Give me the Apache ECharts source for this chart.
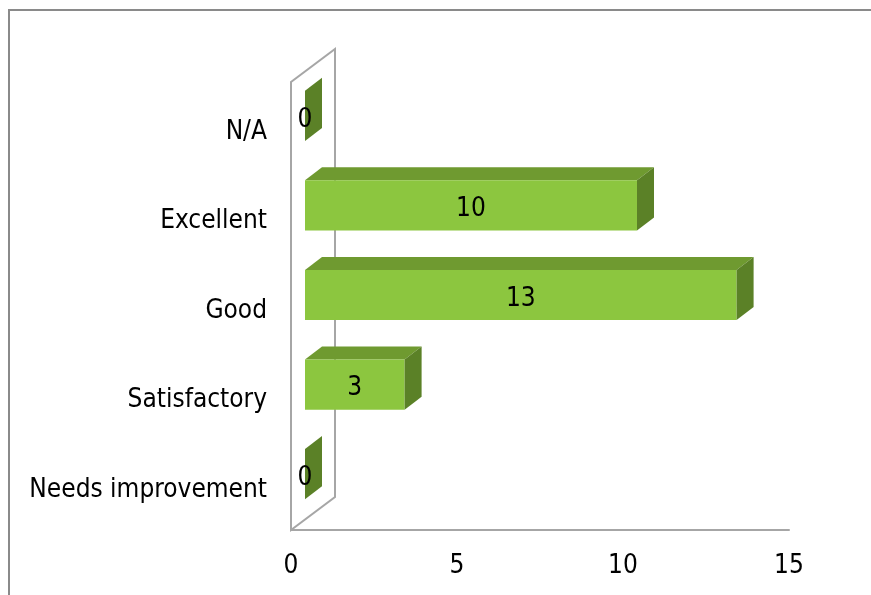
<!DOCTYPE html>
<html>
<head>
<meta charset="utf-8">
<script src="https://cdn.jsdelivr.net/npm/echarts@6/dist/echarts.min.js"></script>
<style>
  html, body { margin: 0; padding: 0; background: #ffffff; }
  #chart { width: 871px; height: 595px; }
</style>
</head>
<body>
<div id="chart"></div>
<script>
// Rating categories, bottom to top
var categories = ['Needs improvement', 'Satisfactory', 'Good', 'Excellent', 'N/A'];
// Number of responses per rating
var counts = [0, 3, 13, 10, 0];
// Value axis ticks
var axisMin = 0;
var axisMax = 15;
var axisStep = 5;

var FONT = 'DejaVu Sans Condensed';
var FONT_SIZE = 26;
var FRONT = '#8cc63f';
var TOP = '#6f9a30';
var SIDE = '#5b8127';
var WALL = '#a6a6a6';

// Depth of the floor/wall in pixels and where the bars sit inside it
var WALL_DX = 44, WALL_DY = -33;
var BAR_OFF_DX = 14, BAR_OFF_DY = -11;
var BAR_DX = 17, BAR_DY = -13;

function wallItem(params, api) {
  var band = api.size([0, 1])[1];
  var base = api.coord([axisMin, 0]);
  var topC = api.coord([axisMin, categories.length - 1]);
  var x = base[0];
  var yb = base[1] + band / 2;
  var yt = topC[1] - band / 2;
  return {
    type: 'polygon',
    shape: { points: [[x, yb], [x, yt], [x + WALL_DX, yt + WALL_DY], [x + WALL_DX, yb + WALL_DY]] },
    style: { fill: 'none', stroke: WALL, lineWidth: 2 },
    z2: 0
  };
}

function barItem(params, api) {
  var idx = api.value(0);
  var val = api.value(1);
  var band = api.size([0, 1])[1];
  var h = band * 0.56;
  var p0 = api.coord([axisMin, idx]);
  var p1 = api.coord([val, idx]);
  var xl = p0[0] + BAR_OFF_DX;
  var xr = p1[0] + BAR_OFF_DX;
  var cy = p0[1] + BAR_OFF_DY;
  var yt = cy - h / 2, yb = cy + h / 2;
  var children = [];
  if (xr - xl > 0.5) {
    children.push({
      type: 'polygon',
      shape: { points: [[xl, yt], [xl + BAR_DX, yt + BAR_DY], [xr + BAR_DX, yt + BAR_DY], [xr, yt]] },
      style: { fill: TOP }
    });
    children.push({
      type: 'rect',
      shape: { x: xl, y: yt, width: xr - xl, height: h },
      style: { fill: FRONT }
    });
  }
  children.push({
    type: 'polygon',
    shape: { points: [[xr, yt], [xr + BAR_DX, yt + BAR_DY], [xr + BAR_DX, yb + BAR_DY], [xr, yb]] },
    style: { fill: SIDE }
  });
  children.push({
    type: 'text',
    style: {
      text: String(val),
      x: (xl + xr) / 2,
      y: cy + 4,
      align: 'center',
      verticalAlign: 'middle',
      fill: '#000000',
      font: FONT_SIZE + 'px "' + FONT + '"'
    },
    z2: 10
  });
  return { type: 'group', children: children };
}

var chart = echarts.init(document.getElementById('chart'), null, { renderer: 'canvas' });
chart.setOption({
  animation: false,
  backgroundColor: '#ffffff',
  graphic: [{
    type: 'rect',
    shape: { x: 9, y: 10, width: 900, height: 700 },
    style: { fill: 'none', stroke: '#8a8a8a', lineWidth: 2 },
    silent: true
  }],
  grid: { left: 291, right: 82, top: 82, bottom: 65 },
  xAxis: {
    type: 'value',
    min: axisMin,
    max: axisMax,
    interval: axisStep,
    axisLine: { show: true, lineStyle: { color: WALL, width: 2 } },
    axisTick: { show: false },
    splitLine: { show: false },
    axisLabel: { margin: 23, color: '#000000', fontFamily: FONT, fontSize: FONT_SIZE }
  },
  yAxis: {
    type: 'category',
    data: categories,
    axisLine: { show: false },
    axisTick: { show: false },
    axisLabel: {
      margin: 24,
      formatter: '{c|{value}}',
      rich: {
        c: {
          color: '#000000', fontFamily: FONT, fontSize: FONT_SIZE,
          padding: [10, 0, 0, 0]
        }
      }
    }
  },
  series: [
    {
      type: 'custom',
      renderItem: wallItem,
      data: [[0, 0]],
      z: 1,
      silent: true
    },
    {
      type: 'custom',
      renderItem: barItem,
      encode: { x: 1, y: 0 },
      data: counts.map(function (v, i) { return [i, v]; }),
      z: 2
    }
  ]
});
</script>
</body>
</html>
